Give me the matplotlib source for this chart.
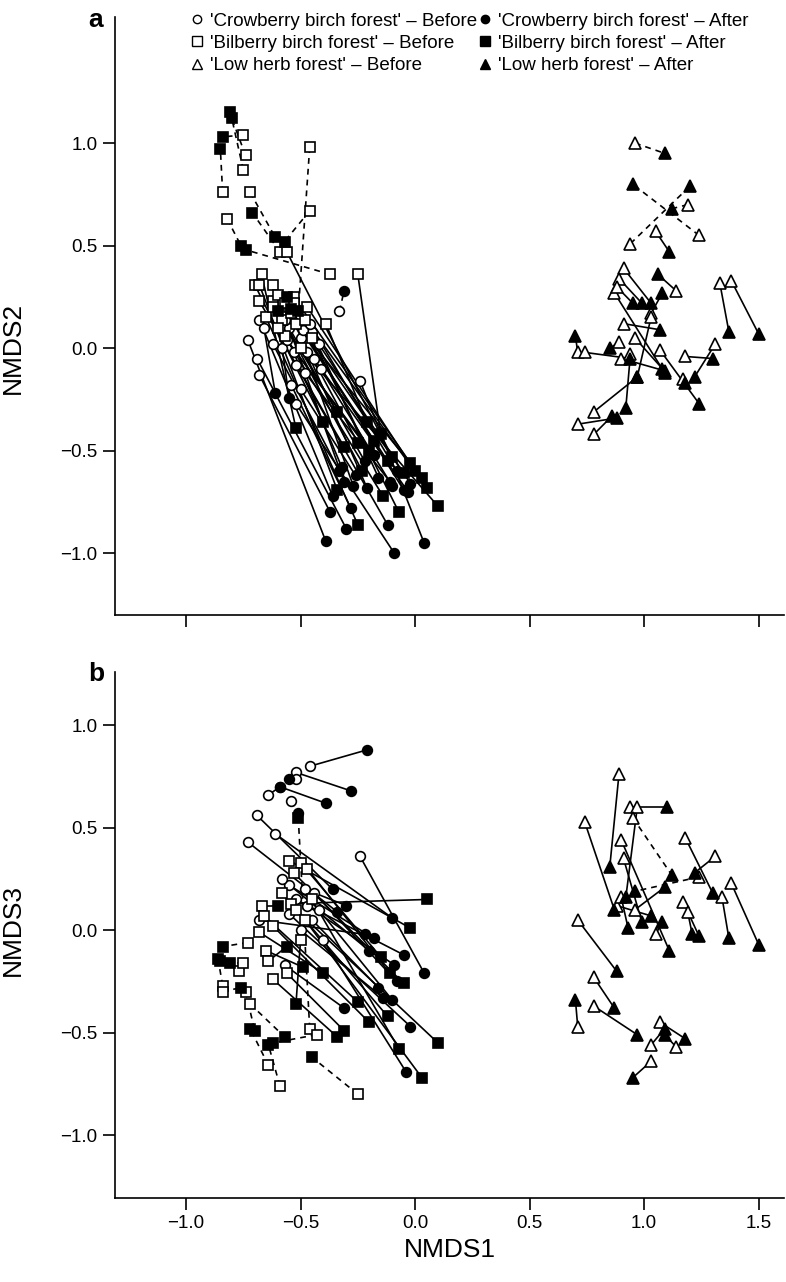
import matplotlib
matplotlib.use('Agg')
import matplotlib.pyplot as plt
from matplotlib.lines import Line2D

plt.rcParams['font.family'] = ['Liberation Sans', 'DejaVu Sans']

# ==================== 数据 ====================
# 面板 a: NMDS1 vs NMDS2
crow_a_x0 = [-0.73, -0.69, -0.68, -0.68, -0.66, -0.54, -0.52, -0.33, -0.24, -0.55, -0.50,
             -0.47, -0.52, -0.45, -0.48, -0.58, -0.44, -0.42, -0.49, -0.62, -0.57, -0.50,
             -0.56, -0.46, -0.53, -0.41]
crow_a_y0 = [0.04, -0.05, -0.13, 0.14, 0.10, -0.18, -0.27, 0.18, -0.16, 0.10, 0.05,
             -0.02, -0.08, 0.08, -0.12, 0.00, -0.05, 0.02, 0.09, 0.02, 0.14, -0.20,
             0.04, 0.12, -0.02, -0.10]
crow_a_x1 = [-0.39, -0.30, -0.37, -0.36, -0.61, -0.28, -0.09, -0.31, 0.04, -0.31, -0.27,
             -0.21, -0.12, -0.16, -0.11, -0.55, -0.10, -0.02, -0.05, -0.33, -0.22, -0.26,
             -0.18, -0.08, -0.32, -0.03]
crow_a_y1 = [-0.94, -0.88, -0.80, -0.72, -0.22, -0.78, -1.00, 0.28, -0.95, -0.65, -0.67,
             -0.68, -0.86, -0.63, -0.65, -0.24, -0.67, -0.66, -0.69, -0.60, -0.55, -0.62,
             -0.52, -0.60, -0.58, -0.70]
crow_a_dash = [0] * 7 + [1] + [0] * 18

bil_a_x0 = [-0.75, -0.74, -0.75, -0.84, -0.72, -0.59, -0.82, -0.37, -0.46, -0.46,
            -0.56, -0.25, -0.39, -0.67, -0.70, -0.68, -0.62, -0.68, -0.62, -0.65,
            -0.55, -0.52, -0.48, -0.57, -0.50, -0.45, -0.53, -0.60, -0.58, -0.57, -0.62, -0.53,
            -0.60, -0.54, -0.47]
bil_a_y0 = [1.04, 0.94, 0.87, 0.76, 0.76, 0.47, 0.63, 0.36, 0.98, 0.67,
            0.47, 0.36, 0.12, 0.36, 0.31, 0.31, 0.31, 0.23, 0.23, 0.15,
            0.20, 0.12, 0.14, 0.06, 0.00, 0.05, 0.25, 0.26, 0.14, 0.22, 0.20, 0.22,
            0.10, 0.17, 0.20]
bil_a_x1 = [-0.84, -0.81, -0.80, -0.85, -0.61, -0.71, -0.76, -0.74, -0.51, -0.57,
            -0.10, -0.15, -0.21, -0.52, -0.40, -0.34, -0.25, -0.31, -0.23, -0.25,
            -0.05, 0.03, 0.05, -0.14, 0.10, -0.07, -0.02, -0.18, -0.34, -0.56, -0.60, -0.54,
            -0.20, -0.12, 0.00]
bil_a_y1 = [1.03, 1.15, 1.12, 0.97, 0.54, 0.66, 0.50, 0.48, 0.18, 0.52,
            -0.53, -0.42, -0.36, -0.39, -0.36, -0.69, -0.46, -0.48, -0.60, -0.86,
            -0.61, -0.63, -0.68, -0.72, -0.77, -0.80, -0.56, -0.45, -0.31, 0.25, 0.18, 0.19,
            -0.50, -0.55, -0.60]
bil_a_dash = [1] * 10 + [0] * 25

herb_a_x0 = [0.96, 1.24, 0.94, 1.19, 1.05, 0.91, 0.89, 0.87, 0.88, 1.14, 1.33, 1.38,
             1.03, 1.03, 0.91, 0.71, 0.74, 0.89, 0.96, 1.07, 1.18, 1.31, 1.17, 0.78,
             0.71, 0.78, 0.94, 0.90]
herb_a_y0 = [1.00, 0.55, 0.51, 0.70, 0.57, 0.39, 0.34, 0.27, 0.30, 0.28, 0.32, 0.33,
             0.17, 0.15, 0.12, -0.02, -0.02, 0.03, 0.05, -0.01, -0.04, 0.02, -0.15, -0.31,
             -0.37, -0.42, -0.03, -0.05]
herb_a_x1 = [1.09, 0.95, 1.20, 1.12, 1.11, 1.03, 0.99, 1.09, 0.95, 1.06, 1.37, 1.50,
             1.08, 0.97, 1.07, 0.70, 0.94, 0.85, 1.08, 1.24, 1.30, 1.22, 1.18, 0.97,
             0.88, 0.86, 0.92, 1.09]
herb_a_y1 = [0.95, 0.80, 0.79, 0.68, 0.47, 0.22, 0.22, -0.12, 0.22, 0.36, 0.08, 0.07,
             0.27, -0.14, 0.09, 0.06, -0.05, 0.00, -0.10, -0.27, -0.05, -0.14, -0.17, -0.14,
             -0.34, -0.33, -0.29, -0.11]
herb_a_dash = [1, 1, 1, 1] + [0] * 24

# 面板 b: NMDS1 vs NMDS3
crow_b_x0 = [-0.46, -0.52, -0.64, -0.59, -0.52, -0.54, -0.69, -0.61, -0.73, -0.24, -0.55,
             -0.52, -0.47, -0.45, -0.50, -0.42, -0.55, -0.40, -0.68, -0.57, -0.48,
             -0.58, -0.44]
crow_b_y0 = [0.80, 0.77, 0.66, 0.70, 0.74, 0.63, 0.56, 0.47, 0.43, 0.36, 0.22,
             0.15, 0.12, 0.05, 0.00, 0.10, 0.08, -0.05, 0.05, -0.17, 0.20,
             0.25, 0.18]
crow_b_x1 = [-0.21, -0.28, -0.59, -0.39, -0.55, -0.51, -0.36, -0.10, -0.34, 0.04, -0.18,
             -0.05, -0.09, -0.16, -0.14, -0.10, -0.02, -0.04, -0.22, -0.31, -0.30,
             -0.20, -0.08]
crow_b_y1 = [0.88, 0.68, 0.70, 0.62, 0.74, 0.57, 0.20, 0.06, 0.09, -0.21, -0.04,
             -0.12, -0.17, -0.28, -0.33, -0.34, -0.47, -0.69, -0.02, -0.38, 0.12,
             -0.10, -0.25]
crow_b_dash = [0] * 5 + [1] + [0] * 17

bil_b_x0 = [-0.54, -0.67, -0.55, -0.50, -0.47, -0.53, -0.66, -0.68, -0.65, -0.56,
            -0.62, -0.52, -0.48, -0.45, -0.50, -0.64, -0.58, -0.62,
            -0.73, -0.77, -0.75, -0.84, -0.84, -0.74, -0.72, -0.46, -0.43, -0.64, -0.59, -0.25]
bil_b_y0 = [0.13, 0.12, 0.34, 0.33, 0.30, 0.28, 0.07, -0.01, -0.10, -0.21,
            -0.24, 0.10, 0.05, 0.15, -0.05, -0.15, 0.18, 0.02,
            -0.06, -0.20, -0.16, -0.27, -0.30, -0.30, -0.36, -0.48, -0.51, -0.66, -0.76, -0.80]
bil_b_x1 = [0.05, -0.60, -0.02, -0.15, -0.11, -0.05, -0.25, -0.40, -0.49, -0.31,
            -0.34, 0.10, 0.03, -0.07, -0.52, -0.56, -0.12, -0.20,
            -0.84, -0.85, -0.81, -0.86, -0.76, -0.70, -0.57, -0.51, -0.62, -0.72, -0.64, -0.45]
bil_b_y1 = [0.15, 0.12, 0.01, -0.13, -0.21, -0.26, -0.35, -0.21, -0.18, -0.49,
            -0.52, -0.55, -0.72, -0.58, -0.36, -0.08, -0.42, -0.45,
            -0.08, -0.15, -0.16, -0.14, -0.28, -0.49, -0.52, 0.55, -0.55, -0.48, -0.56, -0.62]
bil_b_dash = [0] * 18 + [1] * 12

herb_b_x0 = [0.89, 0.94, 0.97, 0.95, 0.74, 0.90, 0.91, 1.18, 1.31, 1.38, 1.34, 1.24,
             1.17, 1.19, 0.88, 0.96, 1.05, 0.90, 0.71, 0.78, 0.78, 0.71, 1.07, 1.14,
             1.03, 1.03]
herb_b_y0 = [0.76, 0.60, 0.60, 0.55, 0.53, 0.44, 0.35, 0.45, 0.36, 0.23, 0.16, 0.26,
             0.14, 0.09, 0.12, 0.10, -0.02, 0.16, 0.05, -0.23, -0.37, -0.47, -0.45, -0.57,
             -0.56, -0.64]
herb_b_x1 = [0.85, 1.10, 0.92, 1.12, 0.87, 1.11, 0.99, 1.30, 1.22, 1.50, 1.37, 0.96,
             1.24, 1.21, 1.03, 1.09, 1.08, 0.93, 0.88, 0.87, 0.97, 0.70, 1.18, 1.09,
             1.09, 0.95]
herb_b_y1 = [0.31, 0.60, 0.16, 0.27, 0.10, -0.10, 0.04, 0.18, 0.28, -0.07, -0.04, 0.19,
             -0.03, -0.02, 0.07, 0.21, 0.04, 0.01, -0.20, -0.38, -0.51, -0.34, -0.53, -0.51,
             -0.48, -0.72]
herb_b_dash = [0, 0, 0, 1, 0, 0, 0, 0, 0, 0, 0, 1, 0, 0, 0, 0, 0, 0, 0, 0, 0, 0, 0, 0, 0, 0]

legend_labels = ["'Crowberry birch forest' \u2013 Before", "'Bilberry birch forest' \u2013 Before",
                 "'Low herb forest' \u2013 Before", "'Crowberry birch forest' \u2013 After",
                 "'Bilberry birch forest' \u2013 After", "'Low herb forest' \u2013 After"]

# ==================== 样式 ====================
markers = {'crow': ('o', 7), 'bil': ('s', 7.5), 'herb': ('^', 8)}
LW = 1.2


def draw_group(ax, kind, x0, y0, x1, y1, dash):
    m, ms = markers[kind]
    for xa, ya, xb, yb, d in zip(x0, y0, x1, y1, dash):
        ax.plot([xa, xb], [ya, yb], color='black', lw=LW,
                ls=(0, (3.5, 3)) if d else '-', zorder=1)
    ax.plot(x0, y0, ls='none', marker=m, ms=ms, mfc='white', mec='black', mew=1.2, zorder=3)
    ax.plot(x1, y1, ls='none', marker=m, ms=ms, mfc='black', mec='black', mew=1.2, zorder=4)


def style_axes(ax, ylim, show_x):
    ax.set_xlim(-1.31, 1.61)
    ax.set_ylim(*ylim)
    for s in ['top', 'right']:
        ax.spines[s].set_visible(False)
    for s in ['left', 'bottom']:
        ax.spines[s].set_linewidth(1.2)
    ax.set_xticks([-1.0, -0.5, 0.0, 0.5, 1.0, 1.5])
    ax.set_yticks([-1.0, -0.5, 0.0, 0.5, 1.0])
    ax.set_yticklabels(['\u22121.0', '\u22120.5', '0.0', '0.5', '1.0'])
    if show_x:
        ax.set_xticklabels(['\u22121.0', '\u22120.5', '0.0', '0.5', '1.0', '1.5'])
    else:
        ax.set_xticklabels([])
    ax.tick_params(direction='out', length=8.5, width=1.2, labelsize=13.5, pad=4)


fig = plt.figure(figsize=(7.86, 12.82), dpi=100)
ax_a = fig.add_axes([0.1463, 0.5203, 0.851, 0.4665])
ax_b = fig.add_axes([0.1463, 0.0655, 0.851, 0.4103])

draw_group(ax_a, 'crow', crow_a_x0, crow_a_y0, crow_a_x1, crow_a_y1, crow_a_dash)
draw_group(ax_a, 'bil', bil_a_x0, bil_a_y0, bil_a_x1, bil_a_y1, bil_a_dash)
draw_group(ax_a, 'herb', herb_a_x0, herb_a_y0, herb_a_x1, herb_a_y1, herb_a_dash)

draw_group(ax_b, 'crow', crow_b_x0, crow_b_y0, crow_b_x1, crow_b_y1, crow_b_dash)
draw_group(ax_b, 'bil', bil_b_x0, bil_b_y0, bil_b_x1, bil_b_y1, bil_b_dash)
draw_group(ax_b, 'herb', herb_b_x0, herb_b_y0, herb_b_x1, herb_b_y1, herb_b_dash)

style_axes(ax_a, (-1.30, 1.615), False)
style_axes(ax_b, (-1.307, 1.26), True)

ax_a.set_ylabel('NMDS2', fontsize=19)
ax_a.yaxis.set_label_coords(-0.135, 0.446)
ax_b.set_ylabel('NMDS3', fontsize=19)
ax_b.yaxis.set_label_coords(-0.135, 0.509)
ax_b.set_xlabel('NMDS1', fontsize=19, labelpad=4)

# 图例
handles = []
for kind in ['crow', 'bil', 'herb']:
    m, ms = markers[kind]
    handles.append(Line2D([], [], ls='none', marker=m, ms=ms - 1, mfc='white', mec='black', mew=1.0))
for kind in ['crow', 'bil', 'herb']:
    m, ms = markers[kind]
    handles.append(Line2D([], [], ls='none', marker=m, ms=ms - 1, mfc='black', mec='black', mew=1.0))
ax_a.legend(handles, legend_labels, ncol=2, loc='upper left', bbox_to_anchor=(0.1, 1.02),
            frameon=False, fontsize=13.5, handlelength=0.8, handletextpad=0.3,
            columnspacing=0.0, labelspacing=0.28, borderaxespad=0)

fig.text(0.112, 0.9938, 'a', fontsize=19, fontweight='bold', va='top', ha='left')
fig.text(0.112, 0.4836, 'b', fontsize=19, fontweight='bold', va='top', ha='left')

fig.savefig('out.png', dpi=100)
